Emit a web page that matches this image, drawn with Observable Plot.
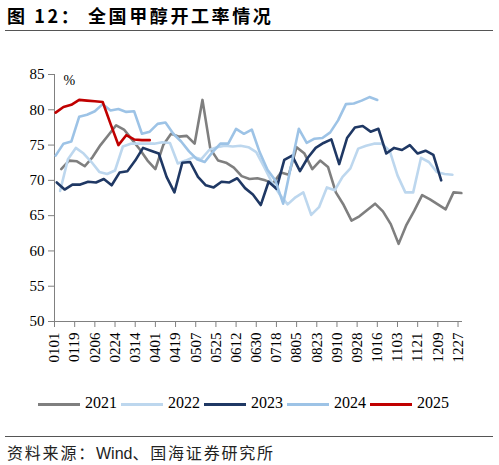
<!DOCTYPE html>
<html>
<head>
<meta charset="utf-8">
<script src="https://cdn.jsdelivr.net/npm/d3@7"></script>
<script src="https://cdn.jsdelivr.net/npm/@observablehq/plot@0.6"></script>
<style>
  body { margin: 0; background: #fff; }
  #page { position: relative; width: 499px; height: 465px; overflow: hidden; font-family: "Noto Sans CJK SC", sans-serif; color: #000; }
  .title { position: absolute; top: 2px; font-size: 18px; font-weight: bold; letter-spacing: 2.6px; white-space: nowrap; }
  .rule { position: absolute; left: 5px; width: 488px; border-top: 1.3px solid #555; }
  #chart { position: absolute; left: 0; top: 40px; }
  #legend { position: absolute; top: 393px; left: 0; width: 499px; height: 24px; font-family: "Liberation Serif", serif; font-size: 16px; }
  .item { position: absolute; top: 0; height: 24px; }
  .swatch { position: absolute; top: 10px; width: 42px; height: 3px; }
  .lab { position: absolute; left: 47px; top: 1px; }
  .source { position: absolute; top: 440px; left: 7px; font-size: 16px; letter-spacing: 1.8px; color: #222; white-space: nowrap; }
</style>
</head>
<body>
<div id="page">
  <div class="title" style="left:7px">图 12：</div>
  <div class="title" style="left:88px">全国甲醇开工率情况</div>
  <div class="rule" style="top:30px"></div>
  <div id="chart"></div>
  <div id="legend"></div>
  <div class="rule" style="top:436px"></div>
  <div class="source">资料来源：<span style="font-family:'Liberation Sans',Arial,sans-serif;letter-spacing:0">Wind</span>、国海证券研究所</div>
</div>
<script>
// x axis tick labels (MMDD)
const tickLabels = ["0101", "0119", "0206", "0224", "0314", "0401", "0419", "0507", "0525", "0612",
  "0630", "0718", "0805", "0823", "0910", "0928", "1016", "1103", "1121", "1209", "1227"];
const yTicks = [50, 55, 60, 65, 70, 75, 80, 85];

const years = ["2021", "2022", "2023", "2024", "2025"];
const colors = ["#7f7f7f", "#bdd7ee", "#1f3864", "#9dc3e6", "#c00000"];

// weekly operating rate (%), first observation date per year
const firstDates = ["0107", "0106", "0103", "0102", "0102"];
const rate2021 = [71.6, 72.8, 72.7, 72.0, 73.3, 75.0, 76.4, 77.8, 77.2, 75.8,
  74.4, 72.8, 71.6, 75.0, 76.6, 76.2, 76.3, 75.2, 81.4, 74.5,
  72.8, 72.5, 71.8, 70.6, 70.2, 70.3, 70.0, 69.6, 71.1, 70.8,
  74.7, 73.8, 71.6, 72.8, 71.9, 68.3, 66.5, 64.3, 64.9, 65.8,
  66.7, 65.6, 63.8, 61.0, 63.7, 65.7, 67.9, 67.3, 66.6, 65.9,
  68.3, 68.2];
const rate2022 = [68.5, 73.0, 74.6, 73.8, 72.6, 71.2, 70.9, 71.4, 74.8, 75.2,
  75.2, 75.2, 75.2, 75.4, 75.3, 72.4, 72.8, 73.3, 73.0, 74.3,
  74.7, 74.9, 74.8, 74.9, 74.7, 74.0, 71.9, 69.7, 68.0, 66.6,
  67.6, 68.3, 65.1, 66.2, 69.0, 68.6, 70.5, 71.7, 74.5, 74.9,
  75.2, 75.2, 74.2, 70.7, 68.3, 68.3, 73.2, 72.6, 71.2, 70.9,
  70.8];
const rate2023 = [69.7, 68.7, 69.4, 69.4, 69.8, 69.7, 70.2, 69.3, 71.1, 71.3,
  72.8, 74.6, 74.2, 73.8, 70.5, 68.3, 72.5, 72.6, 70.5, 69.3,
  69.0, 69.8, 69.7, 70.3, 68.9, 68.0, 66.5, 69.8, 68.8, 72.9,
  73.5, 71.3, 73.2, 74.6, 75.3, 75.8, 72.3, 76.0, 77.5, 77.7,
  76.9, 77.3, 73.8, 74.6, 74.3, 75.0, 73.8, 74.2, 73.6, 70.0];
const rate2024 = [73.5, 75.2, 75.5, 79.0, 79.3, 79.8, 80.8, 79.9, 80.1, 79.7,
  79.8, 76.6, 76.9, 78.0, 78.2, 76.6, 75.5, 74.1, 73.0, 72.6,
  74.0, 75.2, 75.2, 77.3, 76.6, 77.2, 74.0, 71.5, 70.0, 66.7,
  72.0, 77.3, 75.3, 75.9, 76.0, 76.8, 78.5, 80.8, 80.9, 81.3,
  81.8, 81.4];
const rate2025 = [79.6, 80.4, 80.7, 81.4, 81.3, 81.2, 81.1, 78.0, 75.0, 76.4,
  75.8, 75.7, 75.7];

const rates = [rate2021, rate2022, rate2023, rate2024, rate2025];

// day of year of an MMDD string, on a common (non-leap) calendar
function dayOfYear(mmdd) {
  const d = new Date(Date.UTC(2021, +mmdd.slice(0, 2) - 1, +mmdd.slice(2)));
  return d3.utcDay.count(d3.utcYear(d), d);
}

const rows = [];
years.forEach((yr, k) => {
  const d0 = dayOfYear(firstDates[k]);
  rates[k].forEach((v, i) => rows.push({year: yr, day: d0 + 7 * i, value: v}));
});

const tickDays = tickLabels.map(dayOfYear);

const chart = Plot.plot({
  width: 499,
  height: 340,
  marginTop: 34,
  marginBottom: 59,
  marginLeft: 54,
  marginRight: 37,
  style: {fontFamily: "'Liberation Serif', serif", fontSize: "15px", background: "transparent", color: "#000"},
  x: {domain: [0, 364]},
  y: {domain: [50, 85]},
  color: {domain: years, range: colors},
  marks: [
    Plot.axisY({ticks: yTicks, tickSize: 6, tickPadding: 4, stroke: "#808080", fill: "#000", label: null}),
    Plot.axisX({ticks: tickDays, tickFormat: (d, i) => tickLabels[i], tickRotate: -90, tickSize: 6,
      tickPadding: 5, stroke: "#808080", fill: "#000", label: null}),
    Plot.ruleX([0], {stroke: "#808080"}),
    Plot.ruleY([50], {stroke: "#808080"}),
    Plot.line(rows, {x: "day", y: "value", z: "year", stroke: "year", strokeWidth: 2.6}),
    Plot.text(["%"], {frameAnchor: "top-left", textAnchor: "start", lineAnchor: "top", dx: 9, dy: 1, fontSize: 14})
  ]
});
document.getElementById("chart").append(chart);

// legend
const legend = document.getElementById("legend");
years.forEach((yr, k) => {
  const item = document.createElement("div");
  item.className = "item";
  item.style.left = (38 + 83 * k) + "px";
  item.innerHTML = `<div class="swatch" style="background:${colors[k]}"></div><div class="lab">${yr}</div>`;
  legend.append(item);
});
</script>
</body>
</html>
